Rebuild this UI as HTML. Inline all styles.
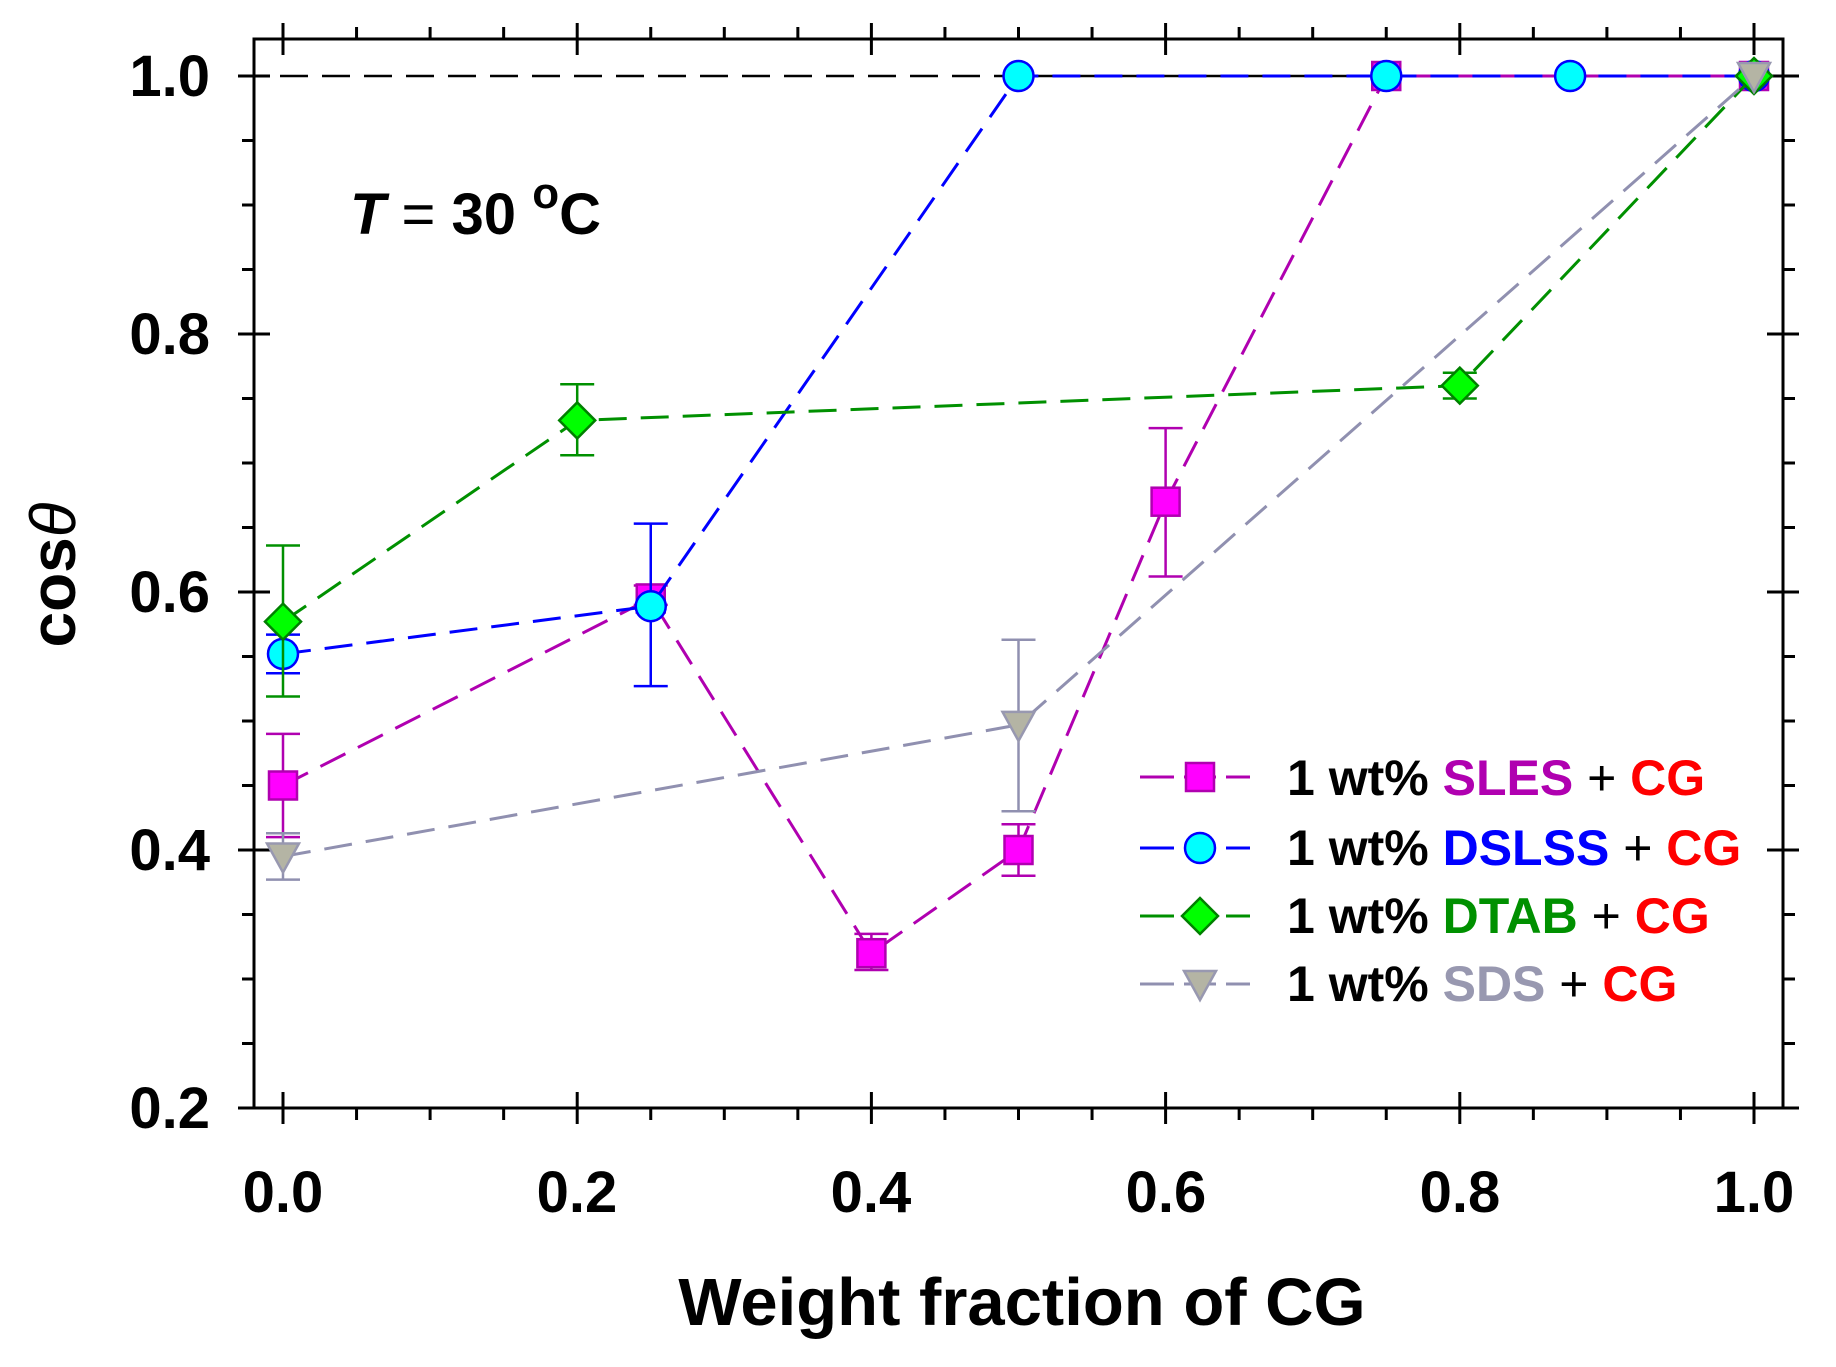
<!DOCTYPE html>
<html><head><meta charset="utf-8"><style>
html,body{margin:0;padding:0;background:#fff;}
svg{display:block;}
text{font-family:"Liberation Sans",Arial,sans-serif;font-weight:bold;}
</style></head><body>
<svg id="s" width="1836" height="1367" viewBox="0 0 1836 1367" xmlns="http://www.w3.org/2000/svg">
<rect width="1836" height="1367" fill="#fff"/>
<g id="plot"></g>
<g font-size="58" text-anchor="end">
<text x="210" y="96">1.0</text>
<text x="210" y="354">0.8</text>
<text x="210" y="612">0.6</text>
<text x="210" y="870">0.4</text>
<text x="210" y="1128">0.2</text>
</g>
<g font-size="58" text-anchor="middle">
<text x="283" y="1212">0.0</text>
<text x="577" y="1212">0.2</text>
<text x="871" y="1212">0.4</text>
<text x="1166" y="1212">0.6</text>
<text x="1460" y="1212">0.8</text>
<text x="1754" y="1212">1.0</text>
</g>
<text x="1022" y="1325" font-size="67" text-anchor="middle">Weight fraction of CG</text>
<text transform="translate(75,575) rotate(-90)" font-size="64" text-anchor="middle">cos<tspan font-style="italic" font-weight="normal">θ</tspan></text>
<text x="350" y="234" font-size="58"><tspan font-style="italic">T</tspan><tspan font-weight="normal"> = </tspan>30 <tspan font-size="44" dy="-26">o</tspan><tspan dy="26">C</tspan></text>
<g font-size="50">
<text x="1287" y="795">1 wt% <tspan fill="#b000b0">SLES</tspan><tspan font-weight="normal"> + </tspan><tspan fill="#ff0000">CG</tspan></text>
<text x="1287" y="865">1 wt% <tspan fill="#0000ff">DSLSS</tspan><tspan font-weight="normal"> + </tspan><tspan fill="#ff0000">CG</tspan></text>
<text x="1287" y="933">1 wt% <tspan fill="#009000">DTAB</tspan><tspan font-weight="normal"> + </tspan><tspan fill="#ff0000">CG</tspan></text>
<text x="1287" y="1001">1 wt% <tspan fill="#9898b0">SDS</tspan><tspan font-weight="normal"> + </tspan><tspan fill="#ff0000">CG</tspan></text>
</g>
</svg>
<script>
(function(){
var NS="http://www.w3.org/2000/svg",g=document.getElementById("plot");
function X(v){return 283+1471*v;}
function Y(v){return 76+1290*(1-v);}
function el(n,a){var e=document.createElementNS(NS,n);for(var k in a)e.setAttribute(k,a[k]);g.appendChild(e);return e;}
function line(x1,y1,x2,y2,c,w,d){var a={x1:x1,y1:y1,x2:x2,y2:y2,stroke:c,"stroke-width":w};if(d)a["stroke-dasharray"]=d;return el("line",a);}
var L=254,R=1783,T=39,B=1108;
line(238,Y(1),R,Y(1),"#000",2.5,"28 14");
el("rect",{x:L,y:T,width:R-L,height:B-T,fill:"none",stroke:"#000","stroke-width":3});
for(var i=0;i<=20;i++){var v=i*0.05,x=X(v);if(x>R)break;var maj=(i%4==0);
 if(maj){line(x,B-16,x,B+16,"#000",3);line(x,T-16,x,T+16,"#000",3);}
 else{line(x,B,x,B+12,"#000",3);line(x,T-12,x,T,"#000",3);}}
for(var i=0;i<=16;i++){var v=0.2+i*0.05,y=Y(v);var maj=(i%4==0);
 if(maj){line(L-16,y,L+16,y,"#000",3);line(R-16,y,R+16,y,"#000",3);}
 else{line(L-12,y,L,y,"#000",3);line(R,y,R+12,y,"#000",3);}}
function marker(t,cx,cy,fc,sc){
 if(t=="sq")el("rect",{x:cx-14,y:cy-14,width:28,height:28,fill:fc,stroke:sc,"stroke-width":2.5});
 else if(t=="ci")el("circle",{cx:cx,cy:cy,r:15,fill:fc,stroke:sc,"stroke-width":2.5});
 else if(t=="di")el("polygon",{points:(cx)+","+(cy-18)+" "+(cx+18)+","+cy+" "+cx+","+(cy+18)+" "+(cx-18)+","+cy,fill:fc,stroke:sc,"stroke-width":2.5});
 else el("polygon",{points:(cx-16)+","+(cy-13)+" "+(cx+16)+","+(cy-13)+" "+cx+","+(cy+16),fill:fc,stroke:sc,"stroke-width":2.5});
}
var S=[
 {t:"sq",lc:"#b000b0",fc:"#ff00ff",sc:"#b000b0",d:[[0,.45,.41,.49],[.25,.595,.59,.605],[.4,.32,.307,.335],[.5,.40,.38,.42],[.6,.67,.612,.727],[.75,1],[1,1]]},
 {t:"ci",lc:"#0000ff",fc:"#00ffff",sc:"#0000ff",d:[[0,.552,.537,.567],[.25,.589,.527,.653],[.5,1],[.75,1],[.875,1],[1,1]]},
 {t:"di",lc:"#009000",fc:"#00ff00",sc:"#008000",d:[[0,.577,.519,.636],[.2,.733,.706,.761],[.8,.76,.75,.77],[1,1]]},
 {t:"tr",lc:"#9090b0",fc:"#b4b4a4",sc:"#9898b0",d:[[0,.395,.377,.413],[.5,.497,.43,.563],[1,1]]}
];
S.forEach(function(s){
 var p=s.d.map(function(q){return X(q[0])+","+Y(q[1]);}).join(" ");
 el("polyline",{points:p,fill:"none",stroke:s.lc,"stroke-width":3,"stroke-dasharray":"28 14"});
 s.d.forEach(function(q){if(q.length>2){var x=X(q[0]);line(x,Y(q[2]),x,Y(q[3]),s.lc,2.5);line(x-17,Y(q[2]),x+17,Y(q[2]),s.lc,2.5);line(x-17,Y(q[3]),x+17,Y(q[3]),s.lc,2.5);}});
 s.d.forEach(function(q){marker(s.t,X(q[0]),Y(q[1]),s.fc,s.sc);});
});
var ly=[777,848,916,984];
S.forEach(function(s,i){line(1140,ly[i],1174,ly[i],s.lc,3);line(1226,ly[i],1250,ly[i],s.lc,3);line(1184,ly[i],1216,ly[i],s.lc,3);marker(s.t,1200,ly[i],s.fc,s.sc);});
})();
</script>
</body></html>
